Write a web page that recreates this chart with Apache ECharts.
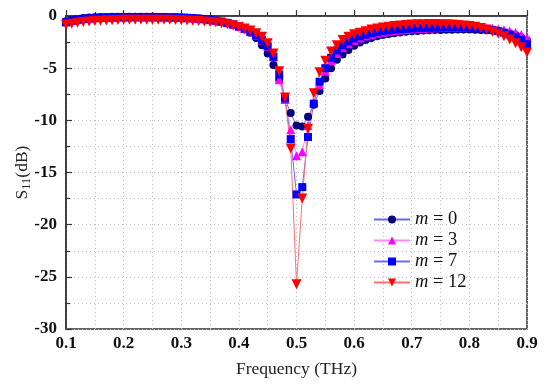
<!DOCTYPE html>
<html>
<head>
<meta charset="utf-8">
<script src="https://cdn.jsdelivr.net/npm/echarts@6/dist/echarts.min.js"></script>
<style>html,body{margin:0;padding:0;background:#fff}#c{width:550px;height:385px}</style>
</head>
<body>
<div id="c"></div>
<script>
var freq = [0.10,0.11,0.12,0.13,0.14,0.15,0.16,0.17,0.18,0.19,
0.20,0.21,0.22,0.23,0.24,0.25,0.26,0.27,0.28,0.29,
0.30,0.31,0.32,0.33,0.34,0.35,0.36,0.37,0.38,0.39,
0.40,0.41,0.42,0.43,0.44,0.45,0.46,0.47,0.48,0.49,
0.50,0.51,0.52,0.53,0.54,0.55,0.56,0.57,0.58,0.59,
0.60,0.61,0.62,0.63,0.64,0.65,0.66,0.67,0.68,0.69,
0.70,0.71,0.72,0.73,0.74,0.75,0.76,0.77,0.78,0.79,
0.80,0.81,0.82,0.83,0.84,0.85,0.86,0.87,0.88,0.89,0.90];

var s11_m0 = [-0.50,-0.38,-0.28,-0.20,-0.15,-0.12,-0.10,-0.09,-0.08,-0.08,
-0.08,-0.08,-0.08,-0.08,-0.08,-0.08,-0.09,-0.10,-0.11,-0.12,
-0.14,-0.17,-0.20,-0.25,-0.30,-0.37,-0.45,-0.55,-0.68,-0.85,
-1.05,-1.30,-1.60,-2.10,-2.80,-3.60,-4.70,-6.10,-8.00,-9.30,
-10.5,-10.6,-9.65,-8.50,-7.20,-6.00,-5.00,-4.20,-3.70,-3.25,
-2.85,-2.55,-2.30,-2.10,-1.95,-1.83,-1.73,-1.65,-1.58,-1.52,
-1.47,-1.43,-1.40,-1.37,-1.35,-1.33,-1.32,-1.31,-1.30,-1.30,
-1.30,-1.31,-1.33,-1.36,-1.40,-1.46,-1.55,-1.67,-1.83,-2.05,-2.35];

var s11_m3 = [-0.55,-0.42,-0.32,-0.25,-0.20,-0.17,-0.14,-0.12,-0.11,-0.10,
-0.10,-0.10,-0.10,-0.10,-0.10,-0.10,-0.10,-0.11,-0.12,-0.13,
-0.15,-0.17,-0.20,-0.24,-0.29,-0.35,-0.43,-0.53,-0.65,-0.80,
-0.98,-1.20,-1.50,-1.85,-2.30,-2.90,-3.90,-6.10,-8.00,-10.9,
-13.4,-13.0,-10.5,-8.30,-6.60,-5.30,-4.30,-3.60,-3.05,-2.65,
-2.35,-2.10,-1.92,-1.77,-1.65,-1.55,-1.47,-1.40,-1.34,-1.29,
-1.25,-1.21,-1.18,-1.15,-1.13,-1.11,-1.10,-1.09,-1.08,-1.08,
-1.08,-1.09,-1.11,-1.14,-1.18,-1.24,-1.32,-1.43,-1.58,-1.78,-2.05];

var s11_m7 = [-0.60,-0.45,-0.35,-0.27,-0.22,-0.18,-0.15,-0.13,-0.12,-0.11,
-0.10,-0.10,-0.10,-0.10,-0.10,-0.10,-0.10,-0.11,-0.12,-0.13,
-0.15,-0.17,-0.20,-0.24,-0.29,-0.35,-0.43,-0.53,-0.65,-0.80,
-0.98,-1.20,-1.50,-1.85,-2.30,-2.90,-3.90,-5.60,-7.90,-11.8,
-17.1,-16.4,-11.6,-8.40,-6.30,-5.00,-4.00,-3.30,-2.80,-2.45,
-2.15,-1.95,-1.80,-1.65,-1.55,-1.45,-1.38,-1.32,-1.27,-1.23,
-1.20,-1.17,-1.15,-1.13,-1.12,-1.11,-1.10,-1.10,-1.10,-1.11,
-1.13,-1.16,-1.20,-1.26,-1.34,-1.45,-1.60,-1.78,-2.00,-2.30,-2.70];

var s11_m12 = [-0.85,-0.75,-0.65,-0.58,-0.52,-0.48,-0.45,-0.42,-0.40,-0.38,
-0.37,-0.36,-0.35,-0.35,-0.35,-0.35,-0.35,-0.36,-0.37,-0.38,
-0.40,-0.42,-0.45,-0.48,-0.52,-0.57,-0.63,-0.70,-0.80,-0.92,
-1.05,-1.20,-1.40,-1.65,-2.00,-2.60,-3.60,-5.30,-7.80,-12.7,
-25.7,-17.5,-10.8,-7.40,-5.40,-4.30,-3.40,-2.80,-2.30,-2.00,
-1.75,-1.60,-1.45,-1.30,-1.20,-1.10,-1.02,-0.96,-0.90,-0.86,
-0.82,-0.80,-0.78,-0.77,-0.77,-0.78,-0.80,-0.82,-0.86,-0.90,
-0.96,-1.04,-1.14,-1.30,-1.50,-1.70,-1.95,-2.25,-2.60,-3.00,-3.50];

var seriesNames = ['m = 0', 'm = 3', 'm = 7', 'm = 12'];
var xTicks = [0.1, 0.9, 0.1];
var yTicks = [-30, 0, 5];

function pairs(v) { return freq.map(function (f, i) { return [f, v[i]]; }); }

var SERIF = '"Liberation Serif", "Times New Roman", serif';
var chart = echarts.init(document.getElementById('c'), null, {renderer: 'canvas'});

function mk(name, data, symbol, size, mColor, lColor, rot) {
  return {
    name: name, type: 'line', data: pairs(data),
    symbol: symbol, symbolSize: size, symbolRotate: rot || 0,
    showSymbol: true, animation: false,
    lineStyle: {color: lColor, width: 1},
    itemStyle: {color: mColor, borderWidth: 0},
    emphasis: {disabled: true}
  };
}

var gridLine = {color: '#bdbdbd', type: [1, 3], width: 1};

chart.setOption({
  backgroundColor: '#fff',
  animation: false,
  grid: {left: 66, right: 23, top: 16, bottom: 56, show: true, borderColor: '#333', borderWidth: 1.5,
    backgroundColor: 'transparent', containLabel: false, outerBoundsMode: 'none'},
  legend: {
    orient: 'vertical', left: 368, top: 205, itemGap: 2, itemWidth: 36, itemHeight: 10,
    data: seriesNames,
    formatter: function (n) { return '{i|m}' + n.substring(1); },
    textStyle: {fontFamily: SERIF, fontSize: 18.5, color: '#111',
      rich: {i: {fontFamily: SERIF, fontStyle: 'italic', fontSize: 18.5, color: '#111'}}}
  },
  xAxis: {
    type: 'value', min: xTicks[0], max: xTicks[1], interval: xTicks[2],
    name: 'Frequency (THz)', nameLocation: 'middle', nameGap: 31, nameMoveOverlap: false,
    nameTextStyle: {fontFamily: SERIF, fontSize: 17.5, color: '#222'},
    axisLine: {show: true, lineStyle: {color: '#333', width: 1.5}},
    axisTick: {show: true, inside: true, length: 6, lineStyle: {color: '#333', width: 1.2}},
    minorTick: {show: true, splitNumber: 2, length: 4, lineStyle: {color: '#333', width: 1.2}},
    axisLabel: {fontFamily: SERIF, fontWeight: 'bold', fontSize: 17, color: '#111', margin: 6,
      formatter: function (v) { return v.toFixed(1); }},
    splitLine: {show: true, lineStyle: gridLine},
    minorSplitLine: {show: true, lineStyle: gridLine}
  },
  yAxis: {
    type: 'value', min: yTicks[0], max: yTicks[1], interval: yTicks[2],
    name: '{a|S}{b|11}{a|(dB)}', nameLocation: 'middle', nameGap: 33, nameRotate: 90, nameMoveOverlap: false,
    nameTextStyle: {rich: {
      a: {fontFamily: SERIF, fontSize: 17.5, color: '#222', lineHeight: 22},
      b: {fontFamily: SERIF, fontSize: 12.5, color: '#222', verticalAlign: 'bottom', lineHeight: 14}
    }},
    axisLine: {show: true, lineStyle: {color: '#333', width: 1.5}},
    axisTick: {show: true, inside: true, length: 6, lineStyle: {color: '#333', width: 1.2}},
    minorTick: {show: true, splitNumber: 2, length: 4, lineStyle: {color: '#333', width: 1.2}},
    axisLabel: {fontFamily: SERIF, fontWeight: 'bold', fontSize: 17, color: '#111', margin: 9},
    splitLine: {show: true, lineStyle: gridLine},
    minorSplitLine: {show: true, lineStyle: gridLine}
  },
  series: [
    mk(seriesNames[0], s11_m0, 'circle', 8, '#000080', '#6a6ae8'),
    mk(seriesNames[1], s11_m3, 'triangle', 9, '#ff00ff', '#ff88ff'),
    mk(seriesNames[2], s11_m7, 'rect', 8, '#0000ff', '#6a6aff'),
    mk(seriesNames[3], s11_m12, 'triangle', 10, '#ff0000', '#ff7070', 180)
  ]
});
</script>
</body>
</html>
